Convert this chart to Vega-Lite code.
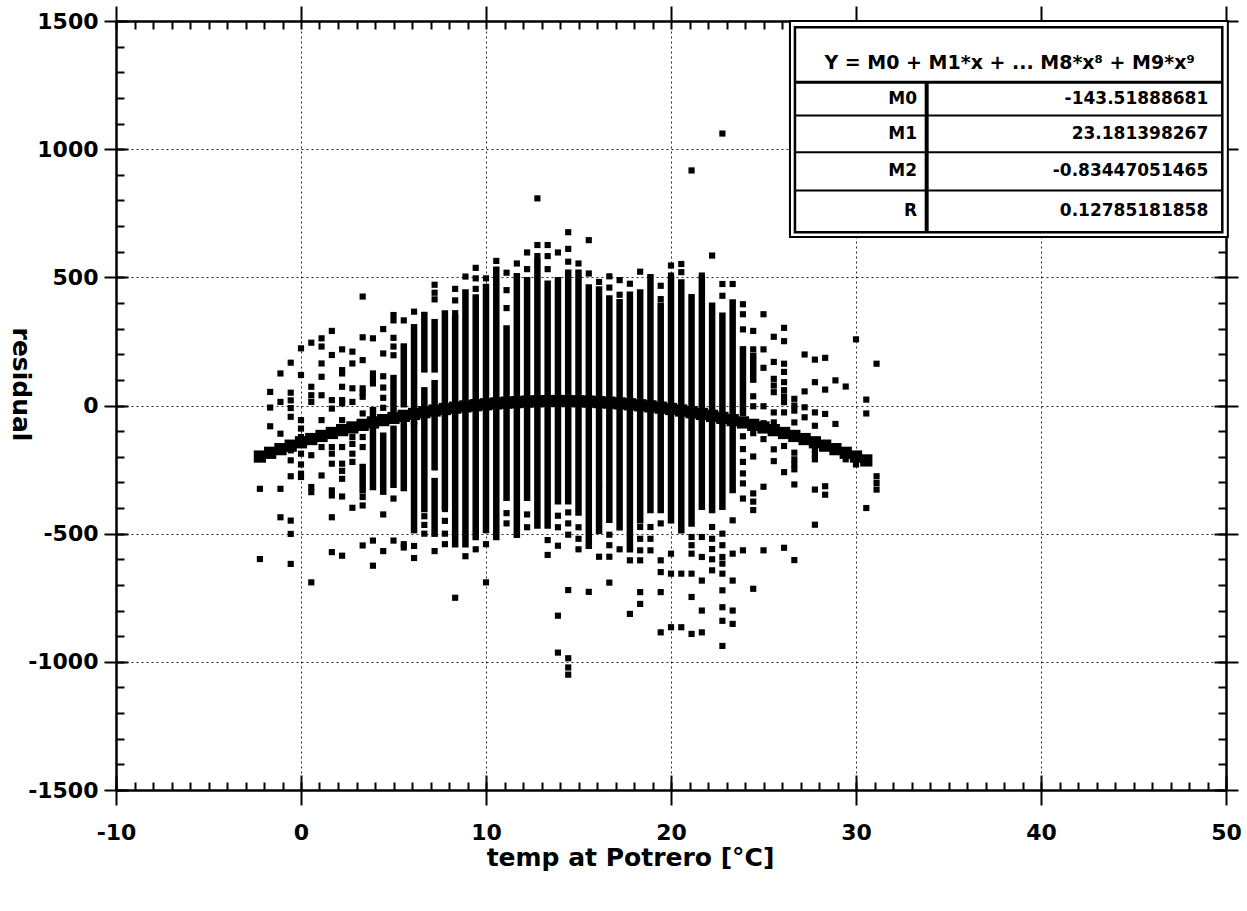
{
  "$schema": "https://vega.github.io/schema/vega-lite/v6.json",
  "width": 1110,
  "height": 769,
  "autosize": {"type": "none"},
  "padding": {"left": 116, "top": 21, "right": 21, "bottom": 121},
  "background": "white",
  "config": {
    "view": {"stroke": null},
    "axis": {
      "labelFont": "DejaVu Sans", "labelFontWeight": "bold", "labelFontSize": 22, "labelColor": "black",
      "tickColor": "black", "tickWidth": 2, "domainColor": "black", "domainWidth": 2.5,
      "titleFont": "DejaVu Sans", "titleFontWeight": "bold", "titleFontSize": 25, "titleColor": "black",
      "grid": false, "labelFlush": false, "labelOverlap": false
    }
  },
  "datasets": {
    "cols": [
      {"x": 3.333, "lo": -331, "hi": -240},
      {"x": 3.889, "lo": -318, "hi": -18},
      {"x": 4.444, "lo": -336, "hi": -118},
      {"x": 5.0, "lo": -22, "hi": 107},
      {"x": 5.0, "lo": -309, "hi": -91},
      {"x": 5.556, "lo": 5, "hi": 230},
      {"x": 5.556, "lo": -322, "hi": -77},
      {"x": 6.111, "lo": -63, "hi": 305},
      {"x": 6.111, "lo": -486, "hi": -77},
      {"x": 6.667, "lo": 141, "hi": 353},
      {"x": 6.667, "lo": -404, "hi": 59},
      {"x": 7.222, "lo": 141, "hi": 325},
      {"x": 7.222, "lo": -241, "hi": 87},
      {"x": 7.222, "lo": -500, "hi": -295},
      {"x": 7.778, "lo": -391, "hi": 359},
      {"x": 8.333, "lo": -541, "hi": 339},
      {"x": 8.889, "lo": -541, "hi": 441},
      {"x": 9.444, "lo": -513, "hi": 421},
      {"x": 10.0, "lo": -486, "hi": 462},
      {"x": 10.556, "lo": -513, "hi": 530},
      {"x": 11.111, "lo": -360, "hi": 300},
      {"x": 11.667, "lo": -504, "hi": 504},
      {"x": 12.222, "lo": -360, "hi": 489},
      {"x": 12.778, "lo": -468, "hi": 561},
      {"x": 13.333, "lo": -468, "hi": 475},
      {"x": 13.889, "lo": -374, "hi": 489},
      {"x": 14.444, "lo": -374, "hi": 518},
      {"x": 15.0, "lo": -417, "hi": 518},
      {"x": 15.556, "lo": -547, "hi": 460},
      {"x": 16.111, "lo": -309, "hi": 453},
      {"x": 16.111, "lo": -489, "hi": -331},
      {"x": 16.667, "lo": -446, "hi": 417},
      {"x": 17.222, "lo": -475, "hi": 403},
      {"x": 17.778, "lo": -561, "hi": 432},
      {"x": 18.333, "lo": -448, "hi": 441},
      {"x": 18.889, "lo": -408, "hi": 500},
      {"x": 19.444, "lo": -408, "hi": 389},
      {"x": 20.0, "lo": -448, "hi": 493},
      {"x": 20.556, "lo": -487, "hi": 480},
      {"x": 21.111, "lo": -460, "hi": 422},
      {"x": 21.667, "lo": -395, "hi": 493},
      {"x": 22.222, "lo": -408, "hi": 389},
      {"x": 22.778, "lo": -395, "hi": 350},
      {"x": 23.333, "lo": -330, "hi": 402},
      {"x": 23.889, "lo": -29, "hi": 219},
      {"x": 24.444, "lo": 101, "hi": 193}
    ],
    "pts": [
      {"x": -2.222, "y": [-325, -599]},
      {"x": -1.667, "y": [53, -8, -81]},
      {"x": -1.111, "y": [125, 14, -110, -325, -436]},
      {"x": -0.556, "y": [167, 50, 20, -10, -44, -175, -214, -276, -449, -501, -618]},
      {"x": 0.0, "y": [223, 119, -57, -90, -123, -188, -230, -266, -279]},
      {"x": 0.556, "y": [245, 73, 40, 14, -194, -318, -338, -690]},
      {"x": 1.111, "y": [262, 230, 164, 112, 40, -57, -162, -273]},
      {"x": 1.667, "y": [291, 197, 21, -12, -162, -188, -227, -331, -351, -436, -572]},
      {"x": 2.222, "y": [219, 138, 125, 73, 21, 8, -57, -162, -227, -255, -286, -355, -586]},
      {"x": 2.778, "y": [210, 164, 67, 14, -123, -150, -188, -220, -399]},
      {"x": 3.333, "y": [425, 266, 177, 67, 50, 34, -31, -123, -162, -357, -390, -546]},
      {"x": 3.889, "y": [262, 125, 105, 86, -527, -625]},
      {"x": 4.444, "y": [298, 203, 114, 70, 30, -9, -425, -568]},
      {"x": 5.0, "y": [353, 332, 264, 230, 196, -363, -527]},
      {"x": 5.556, "y": [332, -541, -554]},
      {"x": 6.111, "y": [366, -548, -595]},
      {"x": 6.667, "y": [-432, -466, -500]},
      {"x": 7.222, "y": [471, 440, 414, -568]},
      {"x": 7.778, "y": [-404, -450, -500, -541]},
      {"x": 8.333, "y": [455, 410, 360, -750]},
      {"x": 8.889, "y": [503, -588]},
      {"x": 9.444, "y": [537, 496, 455, -561]},
      {"x": 10.0, "y": [496, -541, -690]},
      {"x": 10.556, "y": [564]},
      {"x": 11.111, "y": [518, 450, 380, -420, -460]},
      {"x": 11.667, "y": [554]},
      {"x": 12.222, "y": [597, 532, -425, -475]},
      {"x": 12.778, "y": [808, 626, 583]},
      {"x": 13.333, "y": [626, 583, 532, -525, -583]},
      {"x": 13.889, "y": [597, -430, -475, -547, -820, -964]},
      {"x": 14.444, "y": [676, 611, 561, -417, -460, -504, -720, -986, -1022, -1050]},
      {"x": 15.0, "y": [554, -475, -520, -561]},
      {"x": 15.556, "y": [645, 515, -727]},
      {"x": 16.111, "y": [482, -590]},
      {"x": 16.667, "y": [504, 460, -504, -545, -590, -691]},
      {"x": 17.222, "y": [489, 432, -561]},
      {"x": 17.778, "y": [475, -604, -813]},
      {"x": 18.333, "y": [522, -474, -520, -565, -604, -728, -774]},
      {"x": 18.889, "y": [-474, -520, -565]},
      {"x": 19.444, "y": [467, 415, -460, -604, -650, -728, -885]},
      {"x": 20.0, "y": [546, 507, -578, -656, -865]},
      {"x": 20.556, "y": [552, 520, -656, -865]},
      {"x": 21.111, "y": [917, -513, -545, -578, -656, -747, -891]},
      {"x": 21.667, "y": [507, -513, -591, -683, -800, -885]},
      {"x": 22.222, "y": [585, -474, -520, -560, -600, -643]},
      {"x": 22.778, "y": [1061, 474, 428, -500, -545, -591, -617, -656, -721, -787, -840, -938]},
      {"x": 23.333, "y": [474, -448, -578, -683, -800, -852]},
      {"x": 23.889, "y": [395, 356, 297, -69, -120, -170, -220, -265, -304, -363, -565]},
      {"x": 24.444, "y": [291, 219, 36, -3, -108, -199, -343, -375, -408, -715]},
      {"x": 25.0, "y": [356, 219, 147, -3, -69, -131, -317, -565]},
      {"x": 25.556, "y": [268, 170, 104, 78, 52, -27, -66, -171, -217]},
      {"x": 26.111, "y": [303, 251, 163, 131, 91, 60, 35, 13, -27, -158, -260, -555]},
      {"x": 26.667, "y": [26, 0, -20, -66, -184, -210, -230, -249, -308, -603]},
      {"x": 27.222, "y": [199, 55, -7, -46]},
      {"x": 27.778, "y": [179, 91, -27, -79, -171, -190, -210, -328, -465]},
      {"x": 28.333, "y": [186, 62, -33, -315, -348]},
      {"x": 28.889, "y": [98, -72]},
      {"x": 29.444, "y": [74, -210]},
      {"x": 30.0, "y": [258, -230]},
      {"x": 30.556, "y": [23, -31, -400]},
      {"x": 31.111, "y": [163, -276, -302, -328]}
    ],
    "fit": [
      {"x": -2.222, "y": -199.2}, {"x": -1.667, "y": -184.5}, {"x": -1.111, "y": -170.3}, {"x": -0.556, "y": -156.7},
      {"x": 0.0, "y": -143.5}, {"x": 0.556, "y": -130.9}, {"x": 1.111, "y": -118.8}, {"x": 1.667, "y": -107.2},
      {"x": 2.222, "y": -96.1}, {"x": 2.778, "y": -85.6}, {"x": 3.333, "y": -75.5}, {"x": 3.889, "y": -66.0},
      {"x": 4.444, "y": -57.0}, {"x": 5.0, "y": -48.5}, {"x": 5.556, "y": -40.5}, {"x": 6.111, "y": -33.0},
      {"x": 6.667, "y": -26.1}, {"x": 7.222, "y": -19.6}, {"x": 7.778, "y": -13.7}, {"x": 8.333, "y": -8.3},
      {"x": 8.889, "y": -3.4}, {"x": 9.444, "y": 1.0}, {"x": 10.0, "y": 4.8}, {"x": 10.556, "y": 8.2},
      {"x": 11.111, "y": 11.0}, {"x": 11.667, "y": 13.3}, {"x": 12.222, "y": 15.2}, {"x": 12.778, "y": 16.4},
      {"x": 13.333, "y": 17.2}, {"x": 13.889, "y": 17.5}, {"x": 14.444, "y": 17.2}, {"x": 15.0, "y": 16.4},
      {"x": 15.556, "y": 15.2}, {"x": 16.111, "y": 13.3}, {"x": 16.667, "y": 11.0}, {"x": 17.222, "y": 8.2},
      {"x": 17.778, "y": 4.8}, {"x": 18.333, "y": 1.0}, {"x": 18.889, "y": -3.4}, {"x": 19.444, "y": -8.3},
      {"x": 20.0, "y": -13.7}, {"x": 20.556, "y": -19.6}, {"x": 21.111, "y": -26.1}, {"x": 21.667, "y": -33.0},
      {"x": 22.222, "y": -40.5}, {"x": 22.778, "y": -48.5}, {"x": 23.333, "y": -57.0}, {"x": 23.889, "y": -66.0},
      {"x": 24.444, "y": -75.5}, {"x": 25.0, "y": -85.6}, {"x": 25.556, "y": -96.1}, {"x": 26.111, "y": -107.2},
      {"x": 26.667, "y": -118.8}, {"x": 27.222, "y": -130.9}, {"x": 27.778, "y": -143.5}, {"x": 28.333, "y": -156.6},
      {"x": 28.889, "y": -170.3}, {"x": 29.444, "y": -184.5}, {"x": 30.0, "y": -199.1}, {"x": 30.556, "y": -214.3}
    ]
  },
  "resolve": {"axis": {"x": "independent", "y": "independent"}},
  "layer": [
    {
      "data": {"name": "cols"},
      "mark": {"type": "rule", "color": "black", "strokeWidth": 6.5, "strokeCap": "square"},
      "encoding": {
        "x": {"field": "x", "type": "quantitative", "scale": {"domain": [-10, 50], "nice": false, "zero": false},
          "axis": {"orient": "bottom", "values": [-10, 0, 10, 20, 30, 40, 50], "tickSize": 15, "labelPadding": 17,
            "labelExpr": "'' + datum.value", "grid": true, "gridDash": [2, 3], "gridColor": "black", "gridWidth": 1, "gridOpacity": 0.85,
            "title": "temp at Potrero [°C]", "titleX": 514, "titleY": 67, "titleAlign": "center", "titleBaseline": "middle"}},
        "y": {"field": "lo", "type": "quantitative", "scale": {"domain": [-1500, 1500], "nice": false, "zero": false},
          "axis": {"orient": "left", "values": [-1500, -1000, -500, 0, 500, 1000, 1500], "tickSize": 12, "labelPadding": 6,
            "labelExpr": "'' + datum.value", "grid": true, "gridDash": [2, 3], "gridColor": "black", "gridWidth": 1, "gridOpacity": 0.85,
            "title": "residual", "titleAngle": 90, "titleX": -96, "titleY": 363, "titleAlign": "center", "titleBaseline": "middle"}},
        "y2": {"field": "hi"}
      }
    },
    {
      "data": {"name": "pts"},
      "transform": [{"flatten": ["y"]}],
      "mark": {"type": "point", "shape": "square", "filled": true, "size": 38, "color": "black", "opacity": 1},
      "encoding": {
        "x": {"field": "x", "type": "quantitative",
          "axis": {"orient": "bottom", "values": [-10, 0, 10, 20, 30, 40, 50], "tickSize": -15, "labels": false, "domain": false, "title": null}},
        "y": {"field": "y", "type": "quantitative",
          "axis": {"orient": "left", "values": [-1500, -1000, -500, 0, 500, 1000, 1500], "tickSize": -12, "labels": false, "domain": false, "title": null}}
      }
    },
    {
      "data": {"name": "fit"},
      "mark": {"type": "point", "shape": "square", "filled": true, "size": 150, "color": "black", "opacity": 1},
      "encoding": {
        "x": {"field": "x", "type": "quantitative",
          "axis": {"orient": "bottom", "values": [-10,-9,-8,-7,-6,-5,-4,-3,-2,-1,0,1,2,3,4,5,6,7,8,9,10,11,12,13,14,15,16,17,18,19,20,21,22,23,24,25,26,27,28,29,30,31,32,33,34,35,36,37,38,39,40,41,42,43,44,45,46,47,48,49,50], "tickSize": -8, "labels": false, "domain": false, "title": null}},
        "y": {"field": "y", "type": "quantitative",
          "axis": {"orient": "left", "values": [-1500,-1400,-1300,-1200,-1100,-1000,-900,-800,-700,-600,-500,-400,-300,-200,-100,0,100,200,300,400,500,600,700,800,900,1000,1100,1200,1300,1400,1500], "tickSize": -8, "labels": false, "domain": false, "title": null}}
      }
    },
    {
      "data": {"values": [{"x1": 26.43, "x2": 50.1, "y1": 657, "y2": 1500}]},
      "mark": {"type": "rect", "fill": "white", "stroke": "black", "strokeWidth": 2},
      "encoding": {
        "x": {"field": "x1", "type": "quantitative",
          "axis": {"orient": "top", "values": [-10, 0, 10, 20, 30, 40, 50], "tickSize": 15, "labels": false, "domain": true, "title": null}},
        "x2": {"field": "x2"},
        "y": {"field": "y1", "type": "quantitative",
          "axis": {"orient": "right", "values": [-1500, -1000, -500, 0, 500, 1000, 1500], "tickSize": 12, "labels": false, "domain": true, "title": null}},
        "y2": {"field": "y2"}
      }
    },
    {
      "data": {"values": [{"x1": 26.7, "x2": 49.8, "y1": 676, "y2": 1476}]},
      "mark": {"type": "rect", "fill": null, "filled": false, "stroke": "black", "strokeWidth": 2.5},
      "encoding": {
        "x": {"field": "x1", "type": "quantitative",
          "axis": {"orient": "top", "values": [-10,-9,-8,-7,-6,-5,-4,-3,-2,-1,0,1,2,3,4,5,6,7,8,9,10,11,12,13,14,15,16,17,18,19,20,21,22,23,24,25,26,27,28,29,30,31,32,33,34,35,36,37,38,39,40,41,42,43,44,45,46,47,48,49,50], "tickSize": -8, "labels": false, "domain": false, "title": null}},
        "x2": {"field": "x2"},
        "y": {"field": "y1", "type": "quantitative",
          "axis": {"orient": "right", "values": [-1500,-1400,-1300,-1200,-1100,-1000,-900,-800,-700,-600,-500,-400,-300,-200,-100,0,100,200,300,400,500,600,700,800,900,1000,1100,1200,1300,1400,1500], "tickSize": -8, "labels": false, "domain": false, "title": null}},
        "y2": {"field": "y2"}
      }
    },
    {
      "data": {"values": [{"x1": 26.7, "x2": 49.8, "y": 1131}, {"x1": 26.7, "x2": 49.8, "y": 988}, {"x1": 26.7, "x2": 49.8, "y": 839}]},
      "mark": {"type": "rule", "color": "black", "strokeWidth": 2},
      "encoding": {
        "x": {"field": "x1", "type": "quantitative", "axis": null},
        "x2": {"field": "x2"},
        "y": {"field": "y", "type": "quantitative",
          "axis": {"orient": "right", "values": [-1500, -1000, -500, 0, 500, 1000, 1500], "tickSize": -12, "labels": false, "domain": false, "title": null}}
      }
    },
    {
      "data": {"values": [{"x1": 26.7, "x2": 49.8, "y": 1261}]},
      "mark": {"type": "rule", "color": "black", "strokeWidth": 3},
      "encoding": {
        "x": {"field": "x1", "type": "quantitative", "axis": null},
        "x2": {"field": "x2"},
        "y": {"field": "y", "type": "quantitative", "axis": null}
      }
    },
    {
      "data": {"values": [{"x": 33.82, "y1": 676, "y2": 1261}]},
      "mark": {"type": "rule", "color": "black", "strokeWidth": 4},
      "encoding": {
        "x": {"field": "x", "type": "quantitative", "axis": null},
        "y": {"field": "y1", "type": "quantitative", "axis": null},
        "y2": {"field": "y2"}
      }
    },
    {
      "data": {"values": [{"x": 38.3, "y": 1336, "t": "Y = M0 + M1*x  + ... M8*x⁸ + M9*x⁹"}]},
      "mark": {"type": "text", "align": "center", "baseline": "middle", "font": "DejaVu Sans", "fontWeight": "bold", "fontSize": 19, "color": "black"},
      "encoding": {
        "x": {"field": "x", "type": "quantitative", "axis": null},
        "y": {"field": "y", "type": "quantitative", "axis": null},
        "text": {"field": "t"}
      }
    },
    {
      "data": {"values": [
        {"x": 33.3, "y": 1194, "t": "M0"}, {"x": 33.3, "y": 1061, "t": "M1"}, {"x": 33.3, "y": 913, "t": "M2"}, {"x": 33.3, "y": 757, "t": "R"},
        {"x": 49.04, "y": 1194, "t": "-143.51888681"}, {"x": 49.04, "y": 1061, "t": "23.181398267"},
        {"x": 49.04, "y": 913, "t": "-0.83447051465"}, {"x": 49.04, "y": 757, "t": "0.12785181858"}
      ]},
      "mark": {"type": "text", "align": "right", "baseline": "middle", "font": "DejaVu Sans", "fontWeight": "bold", "fontSize": 17, "color": "black"},
      "encoding": {
        "x": {"field": "x", "type": "quantitative", "axis": null},
        "y": {"field": "y", "type": "quantitative", "axis": null},
        "text": {"field": "t"}
      }
    }
  ]
}
